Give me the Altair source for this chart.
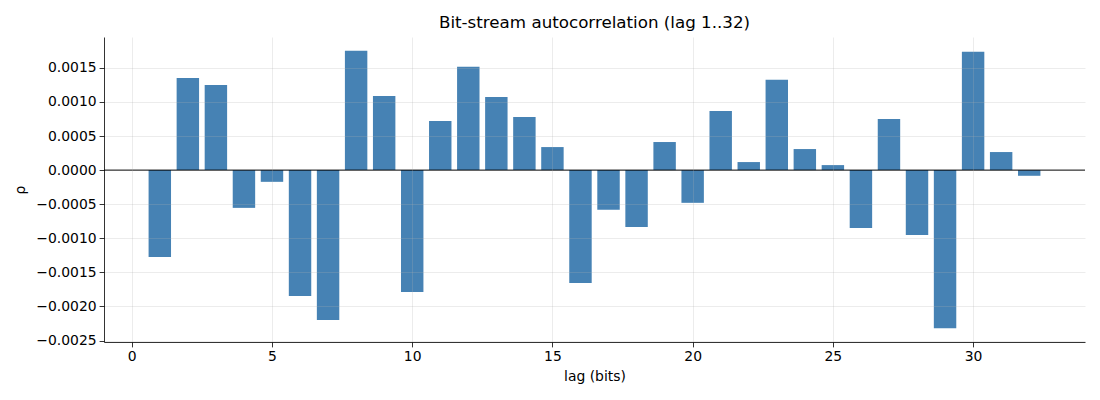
import altair as alt
import pandas as pd

lags = list(range(1, 33))
rho = [-0.001275, 0.001353, 0.00125, -0.000554, -0.000172, -0.001848, -0.0022, 0.00175,
       0.001088, -0.001789, 0.00072, 0.001515, 0.001074, 0.00078, 0.000338, -0.001657,
       -0.000583, -0.000833, 0.000412, -0.00048, 0.000868, 0.000118, 0.001324, 0.000309,
       0.0000735, -0.000848, 0.00075, -0.000951, -0.002319, 0.001735, 0.000265, -0.0000833]
x_ticks = [0, 5, 10, 15, 20, 25, 30]
y_ticks = [-0.0025, -0.002, -0.0015, -0.001, -0.0005, 0.0, 0.0005, 0.001, 0.0015]

df = pd.DataFrame({"lag": lags, "rho": rho})

xs = alt.Scale(domain=[-0.99, 33.99], nice=False, zero=False)
ys = alt.Scale(domain=[-0.002522, 0.001953], nice=False, zero=False)

FONT = "DejaVu Sans"

common = dict(
    grid=True, zindex=1, gridColor="#b0b0b0", gridWidth=0.8,
    domainColor="black", domainWidth=0.8, tickColor="black", tickWidth=0.8,
    tickSize=4.9, labelPadding=3, labelFontSize=13.9, labelFont=FONT, labelColor="black",
    labelOverlap=False, labelFlush=False, tickCount=30,
    titleFont=FONT, titleFontSize=13.9, titleFontWeight="normal", titleColor="black",
)

bars = alt.Chart(df).transform_calculate(
    x0="datum.lag - 0.4", x1="datum.lag + 0.4", base="0"
).mark_bar(color="#4682b4", strokeWidth=0).encode(
    x=alt.X("x0:Q", scale=xs, axis=alt.Axis(
        values=x_ticks, title="lag (bits)", format="d", titlePadding=6,
        gridOpacity=0.3, **common)),
    x2="x1:Q",
    y=alt.Y("rho:Q", scale=ys, axis=alt.Axis(
        values=y_ticks, title="ρ", format=".4f", titlePadding=8,
        gridOpacity={"condition": {"test": "datum.value == 0", "value": 0}, "value": 0.3},
        **common)),
    y2="base:Q",
)

zero_df = pd.DataFrame({"z": [0.0]})
zero = alt.Chart(zero_df).mark_rule(color="black", strokeWidth=1).encode(
    y=alt.Y("z:Q", scale=ys)
)

chart = alt.layer(bars, zero).properties(
    width=981, height=305,
    title=alt.TitleParams("Bit-stream autocorrelation (lag 1..32)", font=FONT, fontSize=16.7,
                          fontWeight="normal", color="black", anchor="middle", offset=5),
    autosize=alt.AutoSizeParams(type="none"),
    padding={"left": 96, "top": 29, "right": 7, "bottom": 50},
).configure_view(stroke=None)

chart.save("out.html", embed_options={"renderer": "svg", "actions": False})
